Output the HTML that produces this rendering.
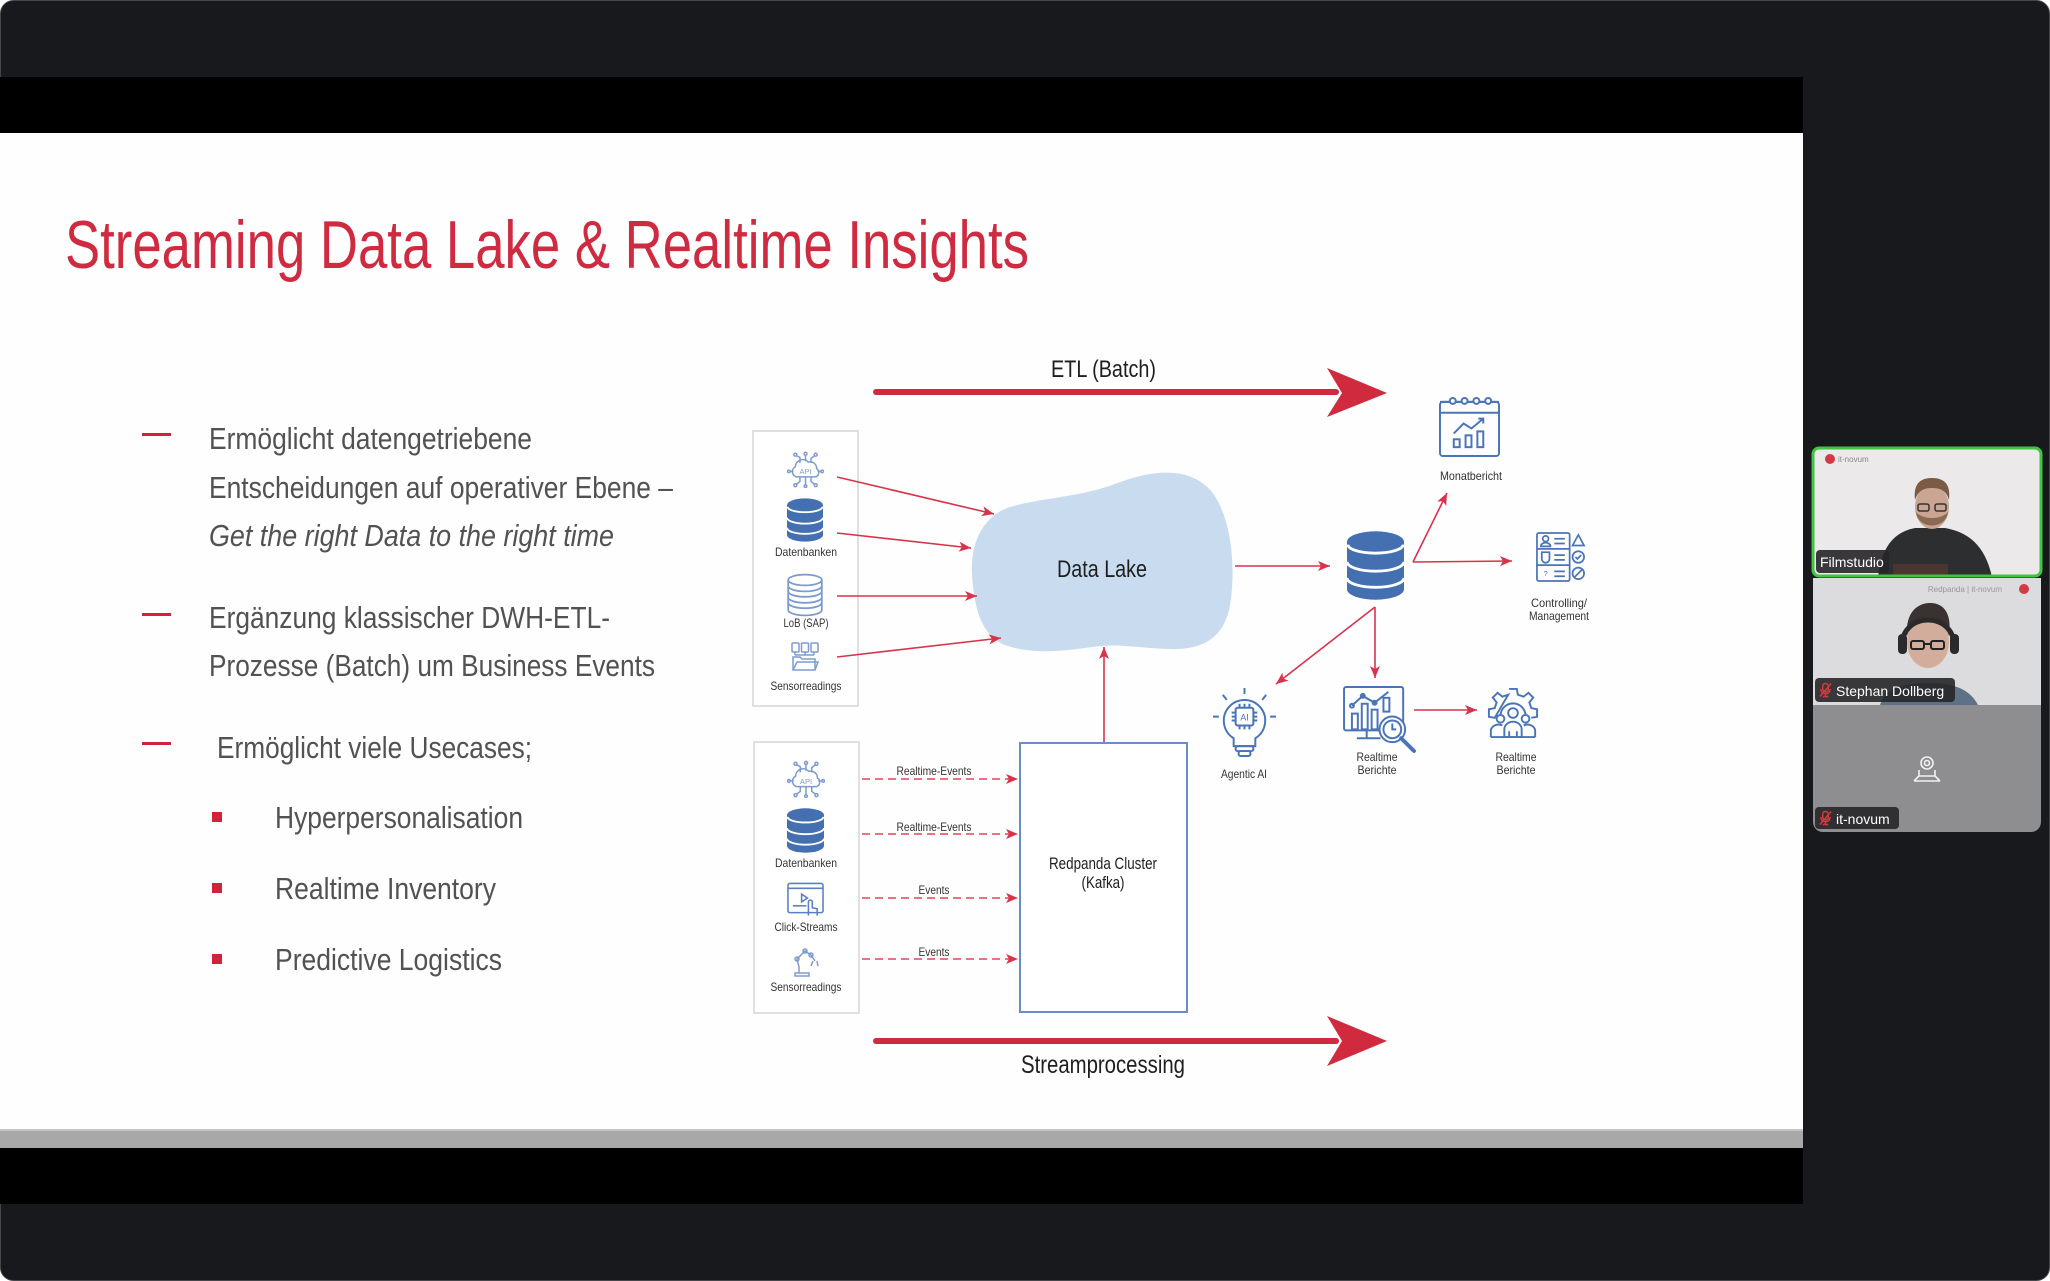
<!DOCTYPE html>
<html><head><meta charset="utf-8">
<style>
html,body{margin:0;padding:0;background:#ffffff;width:2050px;height:1281px;overflow:hidden}
svg{display:block}
text{font-family:"Liberation Sans",sans-serif}
.n{font-family:"Liberation Sans Narrow","Liberation Sans",sans-serif}
</style></head><body>
<svg width="2050" height="1281" viewBox="0 0 2050 1281" xmlns="http://www.w3.org/2000/svg">
<defs>
<marker id="ah" markerUnits="userSpaceOnUse" markerWidth="14" markerHeight="12" refX="12" refY="5" orient="auto">
<path d="M0,0 L12,5 L0,10 L3,5 Z" fill="#d8334a"/>
</marker>
<symbol id="db" viewBox="0 0 60 72">
<path d="M0,11 A30,11 0 0 1 60,11 L60,61 A30,11 0 0 1 0,61 Z" fill="#4470b2"/>
<path d="M1,14 A29,9 0 0 0 59,14" stroke="#fff" stroke-width="3" fill="none"/>
<path d="M0,32 A30,10 0 0 0 60,32" stroke="#fff" stroke-width="3" fill="none"/>
<path d="M0,49 A30,10 0 0 0 60,49" stroke="#fff" stroke-width="3" fill="none"/>
</symbol>
<symbol id="dbo" viewBox="0 0 60 72">
<g fill="none" stroke="#7b9ad0" stroke-width="3">
<ellipse cx="30" cy="11" rx="28" ry="9"/>
<path d="M2,11 L2,61 A28,9 0 0 0 58,61 L58,11"/>
<path d="M2,21 A28,9 0 0 0 58,21"/>
<path d="M2,30 A28,9 0 0 0 58,30"/>
<path d="M2,40 A28,9 0 0 0 58,40"/>
<path d="M2,49 A28,9 0 0 0 58,49"/>
</g></symbol>
<symbol id="api" viewBox="0 0 40 40">
<g fill="none" stroke="#7d9bd1" stroke-width="1.6">
<path d="M10,28 A6,6 0 0 1 9,17 A8,8 0 0 1 23,12 A7,7 0 0 1 32,19 A5,5 0 0 1 31,28 Z"/>
<path d="M14,13 V7 L10,5 M20,11 V4 M26,13 V8 L30,5 M7,22 H3 M33,22 H37 M14,28 V33 L10,36 M20,28 V37 M26,28 V33 L30,36"/>
<circle cx="9" cy="4" r="1.6"/><circle cx="20" cy="3" r="1.6"/><circle cx="31" cy="4" r="1.6"/>
<circle cx="2" cy="22" r="1.4"/><circle cx="38" cy="22" r="1.4"/>
<circle cx="9" cy="37" r="1.6"/><circle cx="20" cy="38" r="1.4"/><circle cx="31" cy="37" r="1.6"/>
</g>
<text x="20" y="25" font-size="8" text-anchor="middle" fill="#7d9bd1">API</text>
</symbol>
<symbol id="fold" viewBox="0 0 30 30">
<g fill="none" stroke="#7d9bd1" stroke-width="1.5">
<rect x="2" y="1" width="7" height="9" rx="1"/><rect x="11.5" y="1" width="7" height="9" rx="1"/><rect x="21" y="1" width="7" height="9" rx="1"/>
<path d="M5,10 V13 M15,10 V13 M24,10 V13 M5,13 H24"/>
<path d="M3,28 V15 H10 L12,17 H25 V28 Z"/>
<path d="M3,28 L7,20 H28 L25,28"/>
</g></symbol>
<symbol id="click" viewBox="0 0 38 36">
<g fill="none" stroke="#5b80c2" stroke-width="1.6">
<rect x="1" y="1" width="36" height="30" rx="2"/>
<path d="M1,6 H37"/>
<path d="M15,12 L21,16 L15,20 Z"/>
<path d="M6,24 H20"/>
<path d="M22,34 V20 A2,2 0 0 1 26,20 V26 L31,27 V34"/>
</g></symbol>
<symbol id="robot" viewBox="0 0 28 30">
<g fill="none" stroke="#7d9bd1" stroke-width="1.5">
<rect x="4" y="26" width="14" height="3"/>
<path d="M8,26 V20 L6,12 L14,4 L20,8 L24,14"/>
<circle cx="6" cy="12" r="2"/><circle cx="14" cy="4" r="2"/><circle cx="20" cy="8" r="2"/>
<path d="M22,14 L20,19 M26,14 L27,19"/>
</g></symbol>
<symbol id="cal" viewBox="0 0 62 62">
<g fill="none" stroke="#4a74b8" stroke-width="2">
<rect x="1" y="6" width="60" height="55" rx="3"/>
<path d="M1,17 H61 M1,6 H61"/>
<circle cx="14" cy="5" r="3" fill="#fff"/><circle cx="26" cy="5" r="3" fill="#fff"/><circle cx="38" cy="5" r="3" fill="#fff"/><circle cx="50" cy="5" r="3" fill="#fff"/>
<path d="M15,38 L25,28 L33,33 L45,23 M40,23 H45 V28"/>
<rect x="15" y="44" width="6" height="8"/><rect x="27" y="40" width="6" height="12"/><rect x="39" y="36" width="6" height="16"/>
</g></symbol>
<symbol id="ctrl" viewBox="0 0 52 52">
<g fill="none" stroke="#4a74b8" stroke-width="1.8">
<rect x="1" y="1" width="34" height="50" rx="2"/>
<path d="M1,17.5 H35 M1,34.5 H35"/>
<circle cx="10" cy="7" r="3"/><path d="M5,15 A5,4 0 0 1 15,15 Z"/>
<path d="M19,7 H30 M19,12 H30 M19,24 H30 M19,29 H30 M19,41 H30 M19,46 H30"/>
<path d="M6,21 H14 V28 A4,4 0 0 1 6,28 Z"/>
<path d="M44,3 L50,14 H38 Z"/>
<circle cx="44" cy="26" r="6"/><path d="M41,26 L43,28 L47,24"/>
<circle cx="44" cy="43" r="6"/><path d="M40,47 L48,39"/>
</g>
<text x="10" y="46" font-size="8" text-anchor="middle" fill="#4a74b8">?</text>
</symbol>
<symbol id="bulb" viewBox="0 0 66 72">
<g fill="none" stroke="#4a74b8" stroke-width="2">
<path d="M33,1 V7 M11,8 L15,13 M55,8 L51,13 M1,30 H7 M59,30 H65"/>
<path d="M22,52 A21,21 0 1 1 44,52 V60 H22 Z"/>
<rect x="24" y="60" width="18" height="5" rx="2"/><rect x="27" y="65" width="12" height="5" rx="2"/>
<rect x="24" y="21" width="18" height="18" rx="2"/>
<path d="M28,21 V17 M33,21 V17 M38,21 V17 M28,39 V43 M33,39 V43 M38,39 V43 M24,26 H20 M24,30 H20 M24,34 H20 M42,26 H46 M42,30 H46 M42,34 H46"/>
</g>
<text x="33" y="34" font-size="9" text-anchor="middle" fill="#4a74b8">AI</text>
</symbol>
<symbol id="mon" viewBox="0 0 76 68">
<g fill="none" stroke="#4a74b8" stroke-width="2">
<rect x="1" y="1" width="60" height="44" rx="2"/>
<path d="M24,45 V53 H14 H38"/>
<rect x="9" y="28" width="6" height="16"/><rect x="19" y="18" width="6" height="26"/><rect x="29" y="24" width="6" height="20"/><rect x="41" y="12" width="6" height="14"/>
<path d="M9,20 L20,10 L32,17 L46,6"/>
<circle cx="9" cy="20" r="2"/><circle cx="20" cy="10" r="2"/><circle cx="32" cy="17" r="2"/>
<circle cx="50" cy="44" r="13" fill="#fff"/><circle cx="50" cy="44" r="9"/>
<path d="M50,38 V44 H54"/>
<path d="M59,53 L72,66" stroke-width="4" stroke-linecap="round"/>
</g></symbol>
<symbol id="gear" viewBox="0 0 54 54">
<g fill="none" stroke="#4a74b8" stroke-width="2">
<path d="M23,2 H31 L32,8 L38,10 L43,6 L48,11 L44,16 L46,22 L52,23 V31 L46,32"/>
<path d="M8,32 L2,31 V23 L8,22 L10,16 L6,11 L11,6 L16,10 L22,8 Z"/>
<path d="M14,30 A13,13 0 0 1 40,30"/>
<circle cx="27" cy="27" r="5"/><circle cx="14" cy="33" r="4"/><circle cx="40" cy="33" r="4"/>
<path d="M18,52 V44 A9,8 0 0 1 36,44 V52 Z"/>
<path d="M4,52 V45 A8,7 0 0 1 16,40 M50,52 V45 A8,7 0 0 0 38,40"/>
<path d="M4,52 H50 M23,52 V46 M31,52 V46"/>
</g></symbol>
<symbol id="mic" viewBox="0 0 14 16">
<g fill="none" stroke="#e0353d" stroke-width="1.6">
<rect x="4" y="1" width="6" height="9" rx="3"/>
<path d="M2,7 A5,5 0 0 0 12,7 M7,12 V15 M4,15 H10"/>
<path d="M1,15 L13,1"/>
</g></symbol>
</defs>

<!-- outer window frame -->
<rect x="0.5" y="0.5" width="2049" height="1280" rx="13" fill="#18191c" stroke="#45464a" stroke-width="1"/>

<!-- slide -->
<rect x="0" y="77" width="1803" height="56" fill="#000"/>
<rect x="0" y="133" width="1803" height="996" fill="#fefefe"/>
<rect x="0" y="1129" width="1803" height="19" fill="#a8a8a8"/>
<rect x="0" y="1129" width="1803" height="2" fill="#c4c4c4"/>
<rect x="0" y="1148" width="1803" height="56" fill="#000"/>

<!-- title -->
<text x="65" y="268" font-size="68" fill="#cf2b40" textLength="964" lengthAdjust="spacingAndGlyphs">Streaming Data Lake &amp; Realtime Insights</text>

<!-- bullets -->
<g fill="#d0233a">
<rect x="142" y="433" width="29" height="3"/>
<rect x="142" y="613" width="29" height="3"/>
<rect x="142" y="742" width="29" height="3"/>
<rect x="212" y="812" width="10" height="10"/>
<rect x="212" y="883" width="10" height="10"/>
<rect x="212" y="954" width="10" height="10"/>
</g>
<g fill="#525252" font-size="31">
<text x="209" y="449" textLength="323" lengthAdjust="spacingAndGlyphs">Ermöglicht datengetriebene</text>
<text x="209" y="498" textLength="464" lengthAdjust="spacingAndGlyphs">Entscheidungen auf operativer Ebene –</text>
<text x="209" y="546" font-style="italic" textLength="405" lengthAdjust="spacingAndGlyphs">Get the right Data to the right time</text>
<text x="209" y="628" textLength="401" lengthAdjust="spacingAndGlyphs">Ergänzung klassischer DWH-ETL-</text>
<text x="209" y="676" textLength="446" lengthAdjust="spacingAndGlyphs">Prozesse (Batch) um Business Events</text>
<text x="217" y="758" textLength="315" lengthAdjust="spacingAndGlyphs">Ermöglicht viele Usecases;</text>
<text x="275" y="828" textLength="248" lengthAdjust="spacingAndGlyphs">Hyperpersonalisation</text>
<text x="275" y="899" textLength="221" lengthAdjust="spacingAndGlyphs">Realtime Inventory</text>
<text x="275" y="970" textLength="227" lengthAdjust="spacingAndGlyphs">Predictive Logistics</text>
</g>

<!-- ETL arrow -->
<text class="n" x="1051" y="377" font-size="24" fill="#1e1e1e" textLength="105" lengthAdjust="spacingAndGlyphs">ETL (Batch)</text>
<line x1="876" y1="392" x2="1336" y2="392" stroke="#cf2a3d" stroke-width="6" stroke-linecap="round"/>
<polygon points="1327,368 1387,393 1327,417 1342,393" fill="#cf2a3d"/>

<!-- Stream arrow -->
<line x1="876" y1="1041" x2="1336" y2="1041" stroke="#cf2a3d" stroke-width="6" stroke-linecap="round"/>
<polygon points="1327,1016 1387,1041 1327,1066 1342,1041" fill="#cf2a3d"/>
<text class="n" x="1021" y="1073" font-size="25" fill="#1e1e1e" textLength="164" lengthAdjust="spacingAndGlyphs">Streamprocessing</text>

<!-- source box 1 -->
<rect x="753" y="431" width="105" height="275" fill="#fff" stroke="#d6d6d6" stroke-width="1.5"/>
<use href="#api" x="787" y="451" width="37" height="37"/>
<use href="#db" x="787" y="498" width="36" height="44"/>
<use href="#dbo" x="787" y="573" width="36" height="44"/>
<use href="#fold" x="790" y="642" width="30" height="30"/>
<g class="n" font-size="12" fill="#333" text-anchor="middle">
<text x="806" y="556" textLength="62" lengthAdjust="spacingAndGlyphs">Datenbanken</text>
<text x="806" y="627" textLength="45" lengthAdjust="spacingAndGlyphs">LoB (SAP)</text>
<text x="806" y="690" textLength="71" lengthAdjust="spacingAndGlyphs">Sensorreadings</text>
</g>

<!-- data lake -->
<path d="M972,575 C970,540 985,515 1010,507 C1040,498 1080,497 1115,484 C1150,470 1190,465 1212,492 C1232,518 1236,570 1230,605 C1224,640 1200,650 1170,649 C1140,648 1120,644 1100,646 C1070,650 1035,656 1005,645 C980,635 974,605 972,575 Z" fill="#c9dcef"/>
<text class="n" x="1057" y="577" font-size="24" fill="#1e1e1e" textLength="90" lengthAdjust="spacingAndGlyphs">Data Lake</text>

<!-- thin arrows -->
<g stroke="#d8334a" stroke-width="1.6" fill="none" marker-end="url(#ah)">
<line x1="837" y1="477" x2="994" y2="514"/>
<line x1="837" y1="533" x2="971" y2="548"/>
<line x1="837" y1="596" x2="977" y2="596"/>
<line x1="837" y1="657" x2="1001" y2="638"/>
<line x1="1235" y1="566" x2="1330" y2="566"/>
<line x1="1413" y1="562" x2="1447" y2="493"/>
<line x1="1413" y1="562" x2="1512" y2="561"/>
<line x1="1375" y1="607" x2="1276" y2="684"/>
<line x1="1375" y1="607" x2="1375" y2="678"/>
<line x1="1414" y1="710" x2="1477" y2="710"/>
<line x1="1104" y1="743" x2="1104" y2="647"/>
</g>
<g stroke="#e0475a" stroke-width="1.6" fill="none" stroke-dasharray="8 5" marker-end="url(#ah)">
<line x1="836" y1="779" x2="1018" y2="779"/>
<line x1="836" y1="834" x2="1018" y2="834"/>
<line x1="836" y1="898" x2="1018" y2="898"/>
<line x1="836" y1="959" x2="1018" y2="959"/>
</g>
<g class="n" font-size="12" fill="#333" text-anchor="middle">
<text x="934" y="775" textLength="75" lengthAdjust="spacingAndGlyphs">Realtime-Events</text>
<text x="934" y="831" textLength="75" lengthAdjust="spacingAndGlyphs">Realtime-Events</text>
<text x="934" y="894" textLength="31" lengthAdjust="spacingAndGlyphs">Events</text>
<text x="934" y="956" textLength="31" lengthAdjust="spacingAndGlyphs">Events</text>
</g>

<!-- central db -->
<use href="#db" x="1347" y="531" width="57" height="69"/>

<!-- right icons -->
<use href="#cal" x="1439" y="396" width="61" height="61"/>
<use href="#ctrl" x="1536" y="532" width="50" height="50"/>
<use href="#bulb" x="1212" y="687" width="65" height="71"/>
<use href="#mon" x="1343" y="686" width="75" height="67"/>
<use href="#gear" x="1487" y="686" width="52" height="54"/>
<g class="n" font-size="12" fill="#333" text-anchor="middle">
<text x="1471" y="480" textLength="62" lengthAdjust="spacingAndGlyphs">Monatbericht</text>
<text x="1559" y="607" textLength="56" lengthAdjust="spacingAndGlyphs">Controlling/</text>
<text x="1559" y="620" textLength="60" lengthAdjust="spacingAndGlyphs">Management</text>
<text x="1244" y="778" textLength="46" lengthAdjust="spacingAndGlyphs">Agentic AI</text>
<text x="1377" y="761" textLength="41" lengthAdjust="spacingAndGlyphs">Realtime</text>
<text x="1377" y="774" textLength="39" lengthAdjust="spacingAndGlyphs">Berichte</text>
<text x="1516" y="761" textLength="41" lengthAdjust="spacingAndGlyphs">Realtime</text>
<text x="1516" y="774" textLength="39" lengthAdjust="spacingAndGlyphs">Berichte</text>
</g>

<!-- source box 2 -->
<rect x="754" y="742" width="105" height="271" fill="#fff" stroke="#d6d6d6" stroke-width="1.5"/>
<use href="#api" x="787" y="760" width="38" height="38"/>
<use href="#db" x="787" y="808" width="37" height="45"/>
<use href="#click" x="787" y="882" width="37" height="36"/>
<use href="#robot" x="791" y="947" width="28" height="30"/>
<g class="n" font-size="12" fill="#333" text-anchor="middle">
<text x="806" y="867" textLength="62" lengthAdjust="spacingAndGlyphs">Datenbanken</text>
<text x="806" y="931" textLength="63" lengthAdjust="spacingAndGlyphs">Click-Streams</text>
<text x="806" y="991" textLength="71" lengthAdjust="spacingAndGlyphs">Sensorreadings</text>
</g>

<!-- redpanda -->
<rect x="1020" y="743" width="167" height="269" fill="#fff" stroke="#6a8ccc" stroke-width="2"/>
<g class="n" font-size="17" fill="#1e1e1e" text-anchor="middle">
<text x="1103" y="869" textLength="108" lengthAdjust="spacingAndGlyphs">Redpanda Cluster</text>
<text x="1103" y="888" textLength="43" lengthAdjust="spacingAndGlyphs">(Kafka)</text>
</g>

<!-- video tiles -->
<!-- tile 3 -->
<path d="M1813,705 H2041 V822 A10,10 0 0 1 2031,832 H1823 A10,10 0 0 1 1813,822 Z" fill="#8e8d90"/>
<g fill="none" stroke="#f2f2f2" stroke-width="1.6">
<circle cx="1927" cy="763" r="6"/><circle cx="1927" cy="763" r="2.5"/>
<path d="M1919,770 V776 H1935 V770 M1914,781 L1919,776 M1940,781 L1935,776 M1914,781 H1940"/>
</g>
<rect x="1815" y="807" width="84" height="22" rx="4" fill="#262628" opacity="0.9"/>
<use href="#mic" x="1819" y="810" width="13" height="16"/>
<text x="1836" y="824" font-size="14" fill="#fff">it-novum</text>

<!-- tile 2 -->
<rect x="1813" y="578" width="228" height="127" fill="#dcdbdd"/>
<circle cx="2024" cy="589" r="5" fill="#d23a45"/>
<text x="2002" y="592" font-size="8" fill="#999" text-anchor="end">Redpanda | it-novum</text>
<path d="M1880,705 C1885,690 1900,683 1928,683 C1956,683 1970,690 1978,705 Z" fill="#5e7186"/>
<ellipse cx="1928" cy="642" rx="21" ry="26" fill="#d2ad9c"/>
<path d="M1907,636 C1905,612 1918,603 1930,603 C1945,603 1952,615 1949,636 C1945,622 1935,617 1928,618 C1918,618 1910,625 1907,636 Z" fill="#3a3230"/>
<path d="M1902,650 C1898,610 1958,610 1954,650" fill="none" stroke="#2a2a2c" stroke-width="5"/>
<rect x="1898" y="634" width="9" height="20" rx="4" fill="#2a2a2c"/>
<rect x="1950" y="634" width="9" height="20" rx="4" fill="#2a2a2c"/>
<g fill="none" stroke="#222" stroke-width="2"><rect x="1911" y="641" width="13" height="8" rx="2"/><rect x="1931" y="641" width="13" height="8" rx="2"/><path d="M1924,644 H1931"/></g>
<rect x="1815" y="678" width="140" height="24" rx="4" fill="#262628" opacity="0.9"/>
<use href="#mic" x="1819" y="682" width="13" height="16"/>
<text x="1836" y="696" font-size="14" fill="#fff">Stephan Dollberg</text>

<!-- tile 1 -->
<rect x="1813" y="448" width="228" height="128" rx="6" fill="#ebe9e9"/>
<circle cx="1830" cy="459" r="5" fill="#d23a45"/>
<text x="1838" y="462" font-size="8" fill="#888">it-novum</text>
<path d="M1878,577 C1882,545 1895,532 1915,528 L1945,528 C1968,532 1985,545 1992,577 Z" fill="#2c2e30"/>
<rect x="1893" y="564" width="55" height="13" fill="#4a3530"/>
<ellipse cx="1932" cy="507" rx="17" ry="22" fill="#c9a592"/>
<path d="M1915,500 C1913,482 1922,478 1932,478 C1944,478 1951,484 1949,500 C1946,490 1940,488 1932,488 C1922,488 1918,492 1915,500 Z" fill="#7a5b43"/>
<path d="M1916,512 C1918,530 1946,530 1948,512 C1942,520 1922,520 1916,512 Z" fill="#8a6a52"/>
<g fill="none" stroke="#333" stroke-width="1.5"><rect x="1918" y="504" width="11" height="7" rx="2"/><rect x="1935" y="504" width="11" height="7" rx="2"/></g>
<rect x="1813" y="448" width="228" height="128" rx="6" fill="none" stroke="#3fc53f" stroke-width="3"/>
<rect x="1816" y="550" width="73" height="23" rx="4" fill="#262628" opacity="0.9"/>
<text x="1820" y="567" font-size="14" fill="#fff">Filmstudio</text>
</svg>
</body></html>
